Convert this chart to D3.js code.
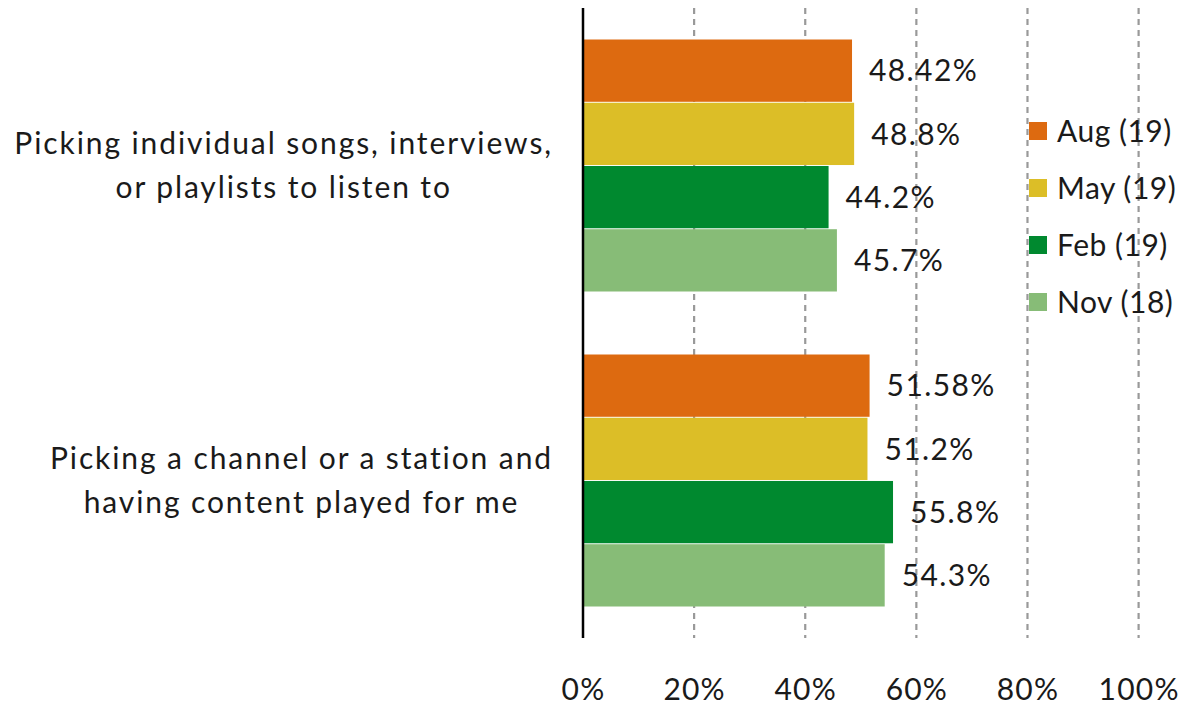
<!DOCTYPE html>
<html>
<head>
<meta charset="utf-8">
<script src="https://cdn.jsdelivr.net/npm/d3@7"></script>
<style>
  html, body { margin: 0; padding: 0; background: #fff; }
  svg text { font-family: Lato, "Open Sans", sans-serif; fill: #1a1a1a; }
</style>
</head>
<body>
<svg id="chart" width="1190" height="707"></svg>
<script>
// Survey answers: how people choose what to listen to
const categories = [
  ["Picking individual songs, interviews,", "or playlists to listen to"],
  ["Picking a channel or a station and", "having content played for me"]
];
const seriesNames = ["Aug (19)", "May (19)", "Feb (19)", "Nov (18)"];
const seriesColors = ["#dd6a10", "#dcbe27", "#00892f", "#87bc77"];
const valuesAug = [48.42, 51.58];
const valuesMay = [48.8, 51.2];
const valuesFeb = [44.2, 55.8];
const valuesNov = [45.7, 54.3];
const valueLabels = [
  ["48.42%", "51.58%"],
  ["48.8%", "51.2%"],
  ["44.2%", "55.8%"],
  ["45.7%", "54.3%"]
];
const tickValues = [0, 20, 40, 60, 80, 100];

const series = [valuesAug, valuesMay, valuesFeb, valuesNov];

const svg = d3.select("#chart");
const plotLeft = 583, plotRight = 1138.6, plotTop = 8, plotBottom = 638;
const fontSize = 30;

const x = d3.scaleLinear().domain([0, 100]).range([plotLeft, plotRight]);
const y0 = d3.scaleBand().domain(d3.range(categories.length)).range([plotTop, plotBottom]).paddingInner(0.2).paddingOuter(0.1);
const y1 = d3.scaleBand().domain(d3.range(series.length)).range([0, y0.bandwidth()]).paddingInner(0.015);

// dashed gridlines
svg.append("g").selectAll("line")
  .data(tickValues.filter(d => d > 0))
  .join("line")
  .attr("x1", d => x(d)).attr("x2", d => x(d))
  .attr("y1", plotTop).attr("y2", plotBottom)
  .attr("stroke", "#999").attr("stroke-width", 2.2)
  .attr("stroke-dasharray", "6,5");

// x axis tick labels
const xAxis = d3.axisBottom(x).tickValues(tickValues).tickFormat(d => d + "%").tickSize(0).tickPadding(0);
const gx = svg.append("g").attr("transform", `translate(0,${plotBottom + 62})`).call(xAxis);
gx.select(".domain").remove();
gx.selectAll("text").attr("font-size", fontSize).attr("dy", 0).attr("fill", "#1a1a1a")
  .attr("letter-spacing", 1.2)
  .style("font-family", "Lato, sans-serif");

// bars and value labels
const groups = svg.append("g").selectAll("g")
  .data(categories.map((c, i) => i))
  .join("g")
  .attr("transform", i => `translate(0,${y0(i)})`);

groups.selectAll("rect")
  .data(i => series.map((s, k) => ({ k, v: s[i] })))
  .join("rect")
  .attr("x", x(0))
  .attr("y", d => y1(d.k))
  .attr("width", d => x(d.v) - x(0))
  .attr("height", y1.bandwidth())
  .attr("fill", d => seriesColors[d.k]);

groups.selectAll("text.val")
  .data(i => series.map((s, k) => ({ k, v: s[i], label: valueLabels[k][i] })))
  .join("text")
  .attr("class", "val")
  .attr("x", d => x(d.v) + 17)
  .attr("y", d => y1(d.k) + y1.bandwidth() / 2)
  .attr("dy", "0.36em")
  .attr("font-size", fontSize)
  .attr("letter-spacing", 1.4)
  .text(d => d.label);

// category labels: block right-aligned, lines centred within block
const catG = svg.append("g");
categories.forEach((lines, i) => {
  const cy = y0(i) + y0.bandwidth() / 2;
  const lineH = 44;
  const texts = lines.map((ln, j) => catG.append("text")
    .attr("font-size", fontSize)
    .attr("letter-spacing", 1.9)
    .attr("y", cy + (j - (lines.length - 1) / 2) * lineH)
    .attr("dy", "0.36em")
    .attr("text-anchor", "middle")
    .text(ln));
  const w = d3.max(texts, t => t.node().getComputedTextLength());
  texts.forEach(t => t.attr("x", 553 - w / 2));
});

// axis line
svg.append("line")
  .attr("x1", plotLeft).attr("x2", plotLeft)
  .attr("y1", plotTop).attr("y2", plotBottom)
  .attr("stroke", "#000").attr("stroke-width", 2.5);

// legend
const lg = svg.append("g").attr("transform", "translate(1029,131)");
const items = lg.selectAll("g").data(seriesNames).join("g")
  .attr("transform", (d, i) => `translate(0,${i * 57})`);
items.append("rect").attr("x", 0).attr("y", -9).attr("width", 18).attr("height", 18)
  .attr("fill", (d, i) => seriesColors[i]);
items.append("text").attr("x", 28).attr("dy", "0.36em").attr("font-size", fontSize)
  .attr("letter-spacing", 0.5).text(d => d);
</script>
</body>
</html>
